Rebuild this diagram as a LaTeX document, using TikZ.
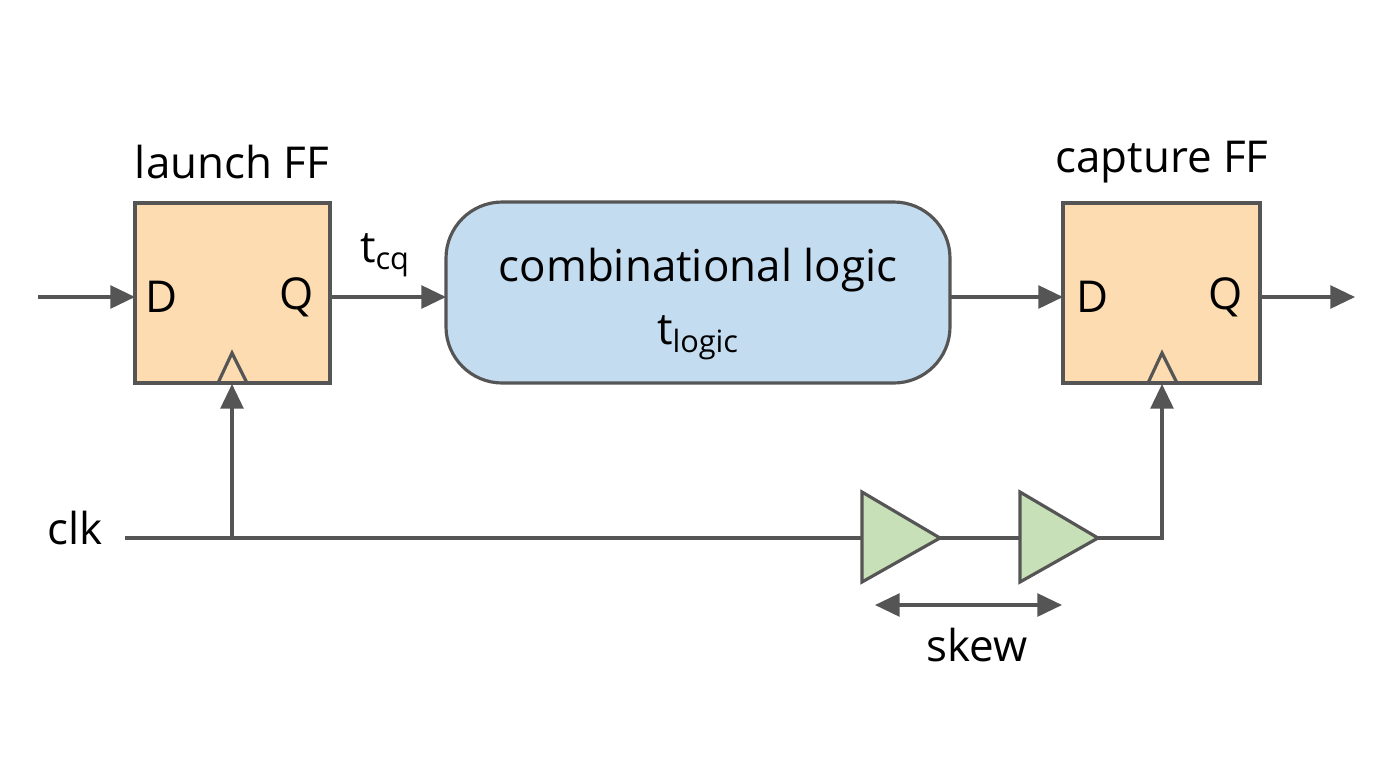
\documentclass[tikz,border=0pt]{standalone}
\usepackage{fontspec}
\setmainfont{Open Sans}
\usetikzlibrary{arrows.meta}
\definecolor{ln}{HTML}{555555}
\definecolor{ff}{HTML}{FCDCB0}
\definecolor{cl}{HTML}{C4DCEF}
\definecolor{bf}{HTML}{C8E0B8}
\begin{document}
\begin{tikzpicture}[x=0.02cm,y=-0.02cm,
  w/.style={draw=ln,line width=1.8pt},
  a/.style={w,-{Triangle[length=14pt,width=13pt]}},
  lab/.style={font=\fontsize{25}{29}\selectfont,text=black},
  box/.style={w,fill=ff}]
\useasboundingbox (0,0) rectangle (1376,768);
\path[box] (135,203) rectangle (330,383);
\path[box] (1063,203) rectangle (1260,383);
\draw[w,fill=cl,rounded corners=32] (446,202) rectangle (950,383);
\node[lab] (lt) at (232,162) {launch FF};
\node[lab] (ct) at (1162,162) {capture FF};
\node[lab] (d1) at (162,297) {D};
\node[lab] (q1) at (297,297) {Q};
\node[lab] (d2) at (1092,297) {D};
\node[lab] (q2) at (1226,297) {Q};
\draw[w] (218,383) -- (232,353) -- (247,383);
\draw[w] (1148,383) -- (1162,353) -- (1177,383);
\node[lab] (cb) at (698,270) {combinational logic};
\node[lab] (tl) at (698,338) {t\textsubscript{logic}};
\node[lab] (tcq) at (385,255) {t\textsubscript{cq}};
\coordinate (in) at (38,297);
\coordinate (ffi) at (135,297);
\coordinate (ffo) at (330,297);
\coordinate (ci) at (446,297);
\coordinate (co) at (950,297);
\coordinate (ffi2) at (1063,297);
\coordinate (ffo2) at (1260,297);
\coordinate (out) at (1355,297);
\draw[a] (in) -- (ffi);
\draw[a] (ffo) -- (ci);
\draw[a] (co) -- (ffi2);
\draw[a] (ffo2) -- (out);
\node[lab] (clk) at (75,528) {clk};
\coordinate (c0) at (125,538);
\coordinate (br) at (232,538);
\draw[w,fill=bf] (862,492) -- (940,538) -- (862,582) -- cycle;
\draw[w,fill=bf] (1020,492) -- (1098,538) -- (1020,582) -- cycle;
\coordinate (b1i) at (862,538);
\coordinate (b1o) at (940,538);
\coordinate (b2i) at (1020,538);
\coordinate (b2o) at (1098,538);
\draw[w] (c0) -- (b1i);
\draw[w] (b1o) -- (b2i);
\draw[a] (br) -- (232,384);
\draw[a] (b2o) -- (1162,538) -- (1162,384);
\coordinate (s1) at (875,605);
\coordinate (s2) at (1062,605);
\draw[w,{Triangle[length=14pt,width=13pt]}-{Triangle[length=14pt,width=13pt]}] (s1) -- (s2);
\node[lab] (sk) at (977,645) {skew};
\end{tikzpicture}
\end{document}
